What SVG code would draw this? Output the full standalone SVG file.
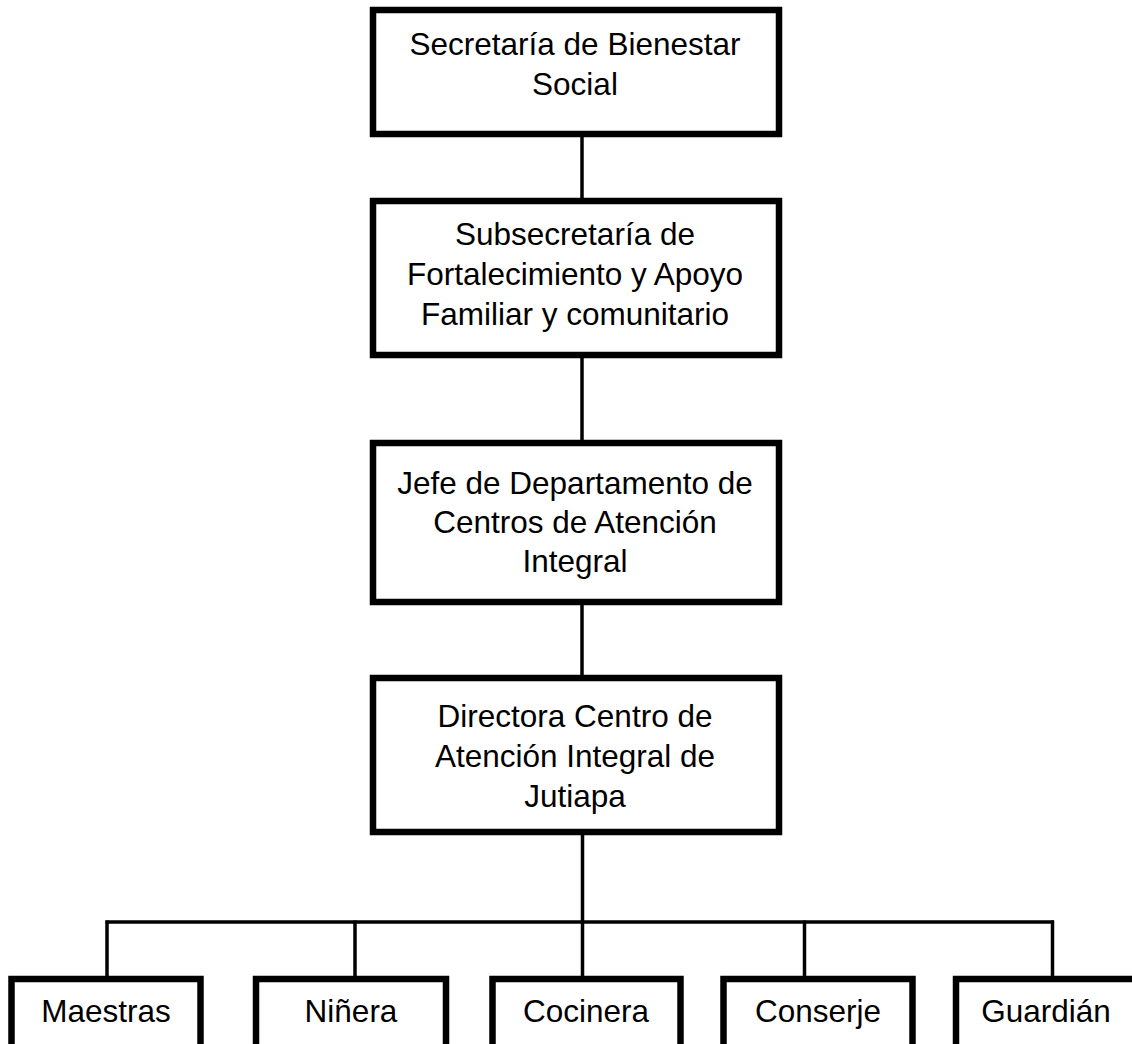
<svg xmlns="http://www.w3.org/2000/svg" width="1132" height="1044" viewBox="0 0 1132 1044">
<style>
.box{fill:#fff;stroke:#000;stroke-width:6.5}
.t{font-family:"Liberation Sans",Arial,sans-serif;font-size:31.5px;fill:#000;text-anchor:middle}
.c{stroke:#000;stroke-width:3.5;fill:none}
</style>
<rect width="1132" height="1044" fill="#fff"/>
<g id="connectors">
<line class="c" x1="582" y1="137" x2="582" y2="199"/>
<line class="c" x1="582" y1="356" x2="582" y2="441"/>
<line class="c" x1="582" y1="604" x2="582" y2="676"/>
<line class="c" x1="582.5" y1="834" x2="582.5" y2="977"/>
<line class="c" x1="105.5" y1="922" x2="1054" y2="922"/>
<line class="c" x1="107" y1="920.5" x2="107" y2="977"/>
<line class="c" x1="355" y1="920.5" x2="355" y2="977"/>
<line class="c" x1="804.5" y1="920.5" x2="804.5" y2="977"/>
<line class="c" x1="1052.5" y1="920.5" x2="1052.5" y2="977"/>
</g>
<g id="n1">
<rect class="box" x="373" y="10" width="406" height="124"/>
<text class="t" x="575" y="55">Secretaría de Bienestar</text>
<text class="t" x="575" y="95">Social</text>
</g>
<g id="n2">
<rect class="box" x="373" y="201" width="406" height="154"/>
<text class="t" x="575" y="245">Subsecretaría de</text>
<text class="t" x="575" y="285">Fortalecimiento y Apoyo</text>
<text class="t" x="575" y="325">Familiar y comunitario</text>
</g>
<g id="n3">
<rect class="box" x="373" y="443" width="406" height="159"/>
<text class="t" x="575" y="494">Jefe de Departamento de</text>
<text class="t" x="575" y="533">Centros de Atención</text>
<text class="t" x="575" y="572">Integral</text>
</g>
<g id="n4">
<rect class="box" x="373" y="678" width="406" height="154"/>
<text class="t" x="575" y="727">Directora Centro de</text>
<text class="t" x="575" y="767">Atención Integral de</text>
<text class="t" x="575" y="807">Jutiapa</text>
</g>
<g id="n5">
<rect class="box" x="11.5" y="979" width="189" height="80"/>
<text class="t" x="106" y="1022">Maestras</text>
</g>
<g id="n6">
<rect class="box" x="256" y="979" width="190" height="80"/>
<text class="t" x="351" y="1022">Niñera</text>
</g>
<g id="n7">
<rect class="box" x="492.5" y="979" width="188" height="80"/>
<text class="t" x="586" y="1022">Cocinera</text>
</g>
<g id="n8">
<rect class="box" x="723.5" y="979" width="189" height="80"/>
<text class="t" x="818" y="1022">Conserje</text>
</g>
<g id="n9">
<rect class="box" x="956" y="979" width="190" height="80"/>
<text class="t" x="1046" y="1022">Guardián</text>
</g>
</svg>
